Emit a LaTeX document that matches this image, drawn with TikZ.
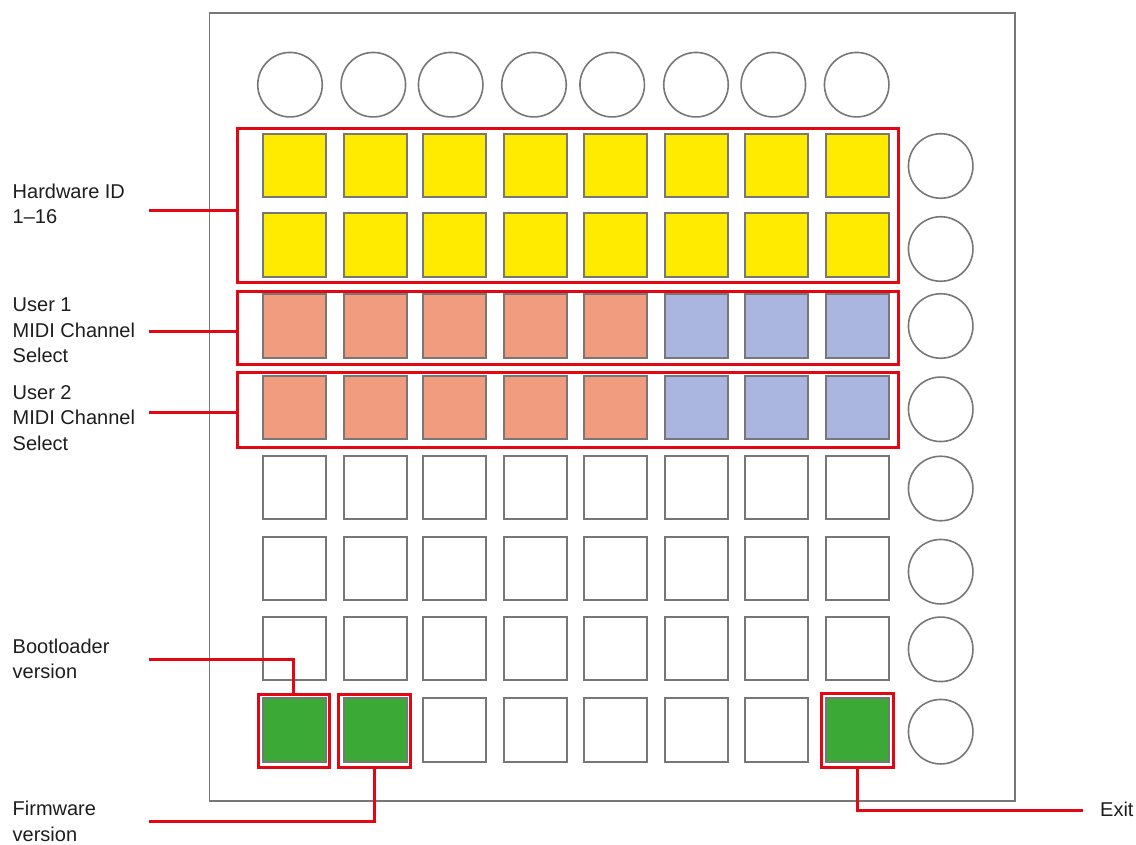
\documentclass[tikz,border=0pt]{standalone}
\usepackage{fontspec}
\setmainfont{Liberation Sans}
\definecolor{padgray}{HTML}{777777}
\definecolor{lpred}{HTML}{E30613}
\definecolor{lpyellow}{HTML}{FFEB00}
\definecolor{lpsalmon}{HTML}{F19C7E}
\definecolor{lpblue}{HTML}{AAB6E0}
\definecolor{lpgreen}{HTML}{3AA935}
\definecolor{txt}{HTML}{1E1E1E}
\begin{document}
\begin{tikzpicture}[x=1pt,y=-1pt,
  pad/.style={draw=padgray,line width=1.7pt,minimum size=63.5pt,inner sep=0pt,fill=white},
  btn/.style={circle,draw=padgray,line width=1.6pt,minimum size=64.5pt,inner sep=0pt},
  redbox/.style={draw=lpred,line width=3pt,inner sep=0pt},
  redline/.style={draw=lpred,line width=3pt},
  label/.style={anchor=base west,align=left,inner sep=0pt,text=txt,font=\fontsize{20}{25.3}\selectfont}]
\useasboundingbox (0,0) rectangle (1136,845);
\fill[white] (0,0) rectangle (1136,845);
% outer frame
\draw[padgray,line width=1.6pt] (209.5,13) rectangle (1015,801);
% top buttons
\foreach \x [count=\i] in {290,373.3,450.7,534,612.2,696,773.3,856.7}
  \node[btn] (top\i) at (\x,84.7) {};
% right buttons
\foreach \y [count=\j] in {166,249,326,409.3,488.5,571.7,649.3,731.7}
  \node[btn] (side\j) at (940.7,\y) {};
% grid pads
\foreach \y [count=\j] in {165.5,245,326,407.5,487.5,568.5,648.5,730}
  \foreach \x [count=\i] in {294.5,375.5,454.5,535.5,615.5,696.5,776.5,857.5}
    \node[pad] (p\j-\i) at (\x,\y) {};
% colours
\foreach \j in {1,2}
  \foreach \i in {1,...,8}
    \node[pad,fill=lpyellow] at (p\j-\i) {};
\foreach \j in {3,4}{
  \foreach \i in {1,...,5}
    \node[pad,fill=lpsalmon] at (p\j-\i) {};
  \foreach \i in {6,7,8}
    \node[pad,fill=lpblue] at (p\j-\i) {};
}
\foreach \i in {1,2,8}
  \node[pad,fill=lpgreen] at (p8-\i) {};
% red boxes
\node[redbox,minimum width=661pt,minimum height=153.7pt] (hw) at (568,205.35) {};
\node[redbox,minimum width=661pt,minimum height=73pt] (u1) at (568,328) {};
\node[redbox,minimum width=661pt,minimum height=75pt] (u2) at (568,409.5) {};
\node[redbox,minimum width=71.5pt,minimum height=73.5pt] (boot) at (293.8,730.8) {};
\node[redbox,minimum width=71.5pt,minimum height=73.5pt] (firm) at (374.5,730.8) {};
\node[redbox,minimum width=72pt,minimum height=74.5pt] (exit) at (857.5,730.3) {};
% labels (anchored at the baseline of their last line)
\node[label] (lhw) at (12.5,223.3) {Hardware ID\\1–16};
\node[label] (lu1) at (12.5,362.3) {User 1\\MIDI Channel\\Select};
\node[label] (lu2) at (12.5,450) {User 2\\MIDI Channel\\Select};
\node[label] (lboot) at (12.5,678.3) {Bootloader\\version};
\node[label] (lfirm) at (12.5,841) {Firmware\\version};
\node[label] (lexit) at (1100,816) {Exit};
% connectors
\coordinate (hwL) at (149,211);
\coordinate (u1L) at (149,331);
\coordinate (u2L) at (149,412.3);
\coordinate (bootL) at (149,659.3);
\coordinate (firmL) at (149,821.7);
\coordinate (exitR) at (1083,810.7);
\draw[redline] (hwL) -- (hwL -| hw.west);
\draw[redline] (u1L) -- (u1L -| u1.west);
\draw[redline] (u2L) -- (u2L -| u2.west);
\draw[redline] (bootL) -| (boot.north);
\draw[redline] (firmL) -| (firm.south);
\draw[redline] (exit.south) |- (exitR);
\end{tikzpicture}
\end{document}
